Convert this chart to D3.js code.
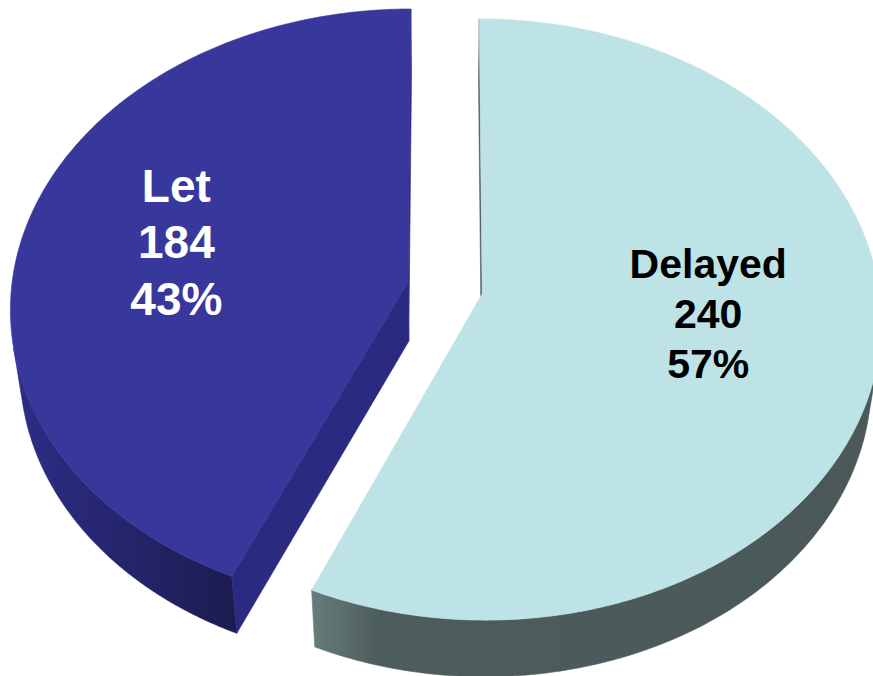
<!DOCTYPE html>
<html>
<head>
<meta charset="utf-8">
<script src="https://cdn.jsdelivr.net/npm/d3@7"></script>
<style>
  html, body { margin: 0; padding: 0; background: #fff; }
  svg { display: block; }
</style>
</head>
<body>
<svg id="chart"></svg>
<script>
// données
const categories = ["Let", "Delayed"];
const values = [184, 240];

// styles
const topColors = ["#38379b", "#bde3e6"];
const sideColors = ["#2a2a80", "#4b5959"];
const wallStops = [
    [[0, "#2d2d88"], [1, "#1c1c50"]],
    [[0, "#687c7c"], [0.12, "#4d5c5c"], [1, "#4a5858"]],
];
const textColors = ["#ffffff", "#000000"];
const fontSizes = [46, 41];
const labelNudge = [[-2, -4], [-10, -18]];

const width = 873;
const height = 676;

// vue 3D en perspective
const view = { cx: 445, cy: 288, scale: 396.5, tilt: (48.6 * Math.PI) / 180, dist: 7.76 };
const depth = 0.23;
const explode = 0.0956;
const sinT = Math.sin(view.tilt);
const cosT = Math.cos(view.tilt);

function project(x, y, z) {
    const d = 1 + (z * cosT - y * sinT) / view.dist;
    return [view.cx + (view.scale * x) / d, view.cy - (view.scale * (y * cosT + z * sinT)) / d];
}

// position de la caméra (monde)
const camY = view.dist * sinT;
const camZ = -view.dist * cosT;

const svg = d3.select("#chart").attr("width", width).attr("height", height);
const defs = svg.append("defs");
const line = d3.line().curve(d3.curveLinearClosed);
const pct = d3.format(".0%");
const total = d3.sum(values);

// sens antihoraire depuis midi
const arcs = d3.pie().sort(null).startAngle(0).endAngle(-2 * Math.PI)(values);

const slices = arcs.map((a, i) => {
    const a0 = Math.min(a.startAngle, a.endAngle);
    const a1 = Math.max(a.startAngle, a.endAngle);
    const mid = (a0 + a1) / 2;
    const ox = explode * Math.sin(mid);
    const oz = explode * Math.cos(mid);
    const n = 300;
    const angles = d3.range(n + 1).map(k => a0 + ((a1 - a0) * k) / n);
    return { i, a0, a1, mid, ox, oz, angles };
});

slices.forEach(s => {
    const g = svg.append("g");
    const rim = (phi, y) => project(s.ox + Math.sin(phi), y, s.oz + Math.cos(phi));
    const center = y => project(s.ox, y, s.oz);

    // paroi extérieure : parties visibles seulement
    const visible = phi => {
        const x = s.ox + Math.sin(phi);
        const z = s.oz + Math.cos(phi);
        return Math.sin(phi) * (0 - x) + Math.cos(phi) * (camZ - z) > 0;
    };
    const runs = [];
    let cur = [];
    s.angles.forEach(phi => {
        if (visible(phi)) cur.push(phi);
        else if (cur.length) { runs.push(cur); cur = []; }
    });
    if (cur.length) runs.push(cur);

    runs.forEach((run, r) => {
        const pts = run.map(p => rim(p, 0)).concat(run.slice().reverse().map(p => rim(p, -depth)));
        const [xMin, xMax] = d3.extent(pts, p => p[0]);
        const id = `wall-${s.i}-${r}`;
        const grad = defs.append("linearGradient").attr("id", id)
            .attr("gradientUnits", "userSpaceOnUse")
            .attr("x1", xMin).attr("x2", xMax).attr("y1", 0).attr("y2", 0);
        wallStops[s.i].forEach(([o, c]) => grad.append("stop").attr("offset", o).attr("stop-color", c));
        g.append("path").attr("d", line(pts)).attr("fill", `url(#${id})`)
            .attr("stroke", `url(#${id})`).attr("stroke-width", 0.6);
    });

    // faces radiales
    [[s.a0, -1], [s.a1, 1]].forEach(([phi, sign]) => {
        const nx = sign * Math.cos(phi);
        const nz = -sign * Math.sin(phi);
        const dot = nx * (0 - s.ox) + nz * (camZ - s.oz);
        if (dot <= 0) return;
        const pts = [center(0), rim(phi, 0), rim(phi, -depth), center(-depth)];
        g.append("path").attr("d", line(pts)).attr("fill", sideColors[s.i])
            .attr("stroke", sideColors[s.i]).attr("stroke-width", 0.6);
    });

    // face supérieure
    const top = [center(0)].concat(s.angles.map(p => rim(p, 0)));
    g.append("path").attr("d", line(top)).attr("fill", topColors[s.i])
        .attr("stroke", topColors[s.i]).attr("stroke-width", 0.6);
});

// étiquettes
slices.forEach(s => {
    const r = 0.6;
    const [px, py] = project(s.ox + r * Math.sin(s.mid), 0, s.oz + r * Math.cos(s.mid));
    const x = px + labelNudge[s.i][0];
    const y = py + labelNudge[s.i][1];
    const fs = fontSizes[s.i];
    const lh = fs * 1.22;
    const lines = [categories[s.i], values[s.i], pct(values[s.i] / total)];
    const text = svg.append("text")
        .attr("text-anchor", "middle")
        .style("font-family", "Arial, 'Liberation Sans', sans-serif")
        .style("font-weight", "bold")
        .style("font-size", `${fs}px`)
        .attr("fill", textColors[s.i]);
    lines.forEach((t, k) => {
        text.append("tspan").attr("x", x).attr("y", y + 0.36 * fs + (k - 1) * lh).text(t);
    });
});
</script>
</body>
</html>
